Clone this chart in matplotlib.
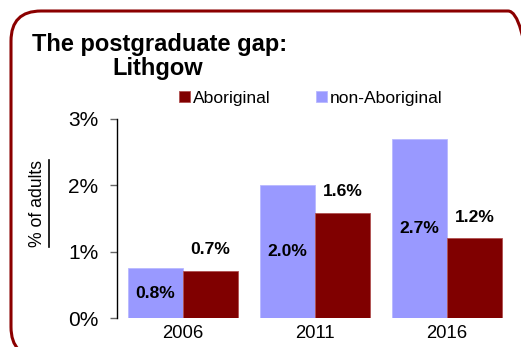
import matplotlib
matplotlib.use("Agg")
import matplotlib.pyplot as plt
import numpy as np
from matplotlib.patches import FancyBboxPatch
from matplotlib.lines import Line2D

years = ["2006", "2011", "2016"]
non_aboriginal = [0.75, 2.0, 2.7]
aboriginal = [0.71, 1.58, 1.2]
ytick_labels = ["0%", "1%", "2%", "3%"]

plt.rcParams["font.family"] = ["Liberation Sans", "DejaVu Sans"]

W, H, DPI = 521, 347, 100
fig = plt.figure(figsize=(W / DPI, H / DPI), dpi=DPI)
fig.patch.set_facecolor("white")

# rounded outer frame (pixel coordinates)
frame = FancyBboxPatch((11, -10), 527, 347 - 11 + 10,
                       boxstyle="round,pad=0,rounding_size=30",
                       transform=None, facecolor="none",
                       edgecolor="#8B0000", linewidth=2.2, zorder=0)
fig.patches.append(frame)

ax = fig.add_axes([117 / W, 1 - 318 / H, (513 - 117) / W, (318 - 119) / H])

x = np.arange(len(years))
bw = 55 / 132
c_non = "#9999FF"
c_abo = "#800000"
ax.bar(x - bw / 2, non_aboriginal, bw, color=c_non, edgecolor="#B8B8FF",
       linewidth=0.6, label="non-Aboriginal")
ax.bar(x + bw / 2, aboriginal, bw, color=c_abo, edgecolor="#B05050",
       linewidth=0.6, label="Aboriginal")

for i in range(len(years)):
    ax.text(x[i] - bw / 2, non_aboriginal[i] / 2, f"{non_aboriginal[i]:.1f}%",
            ha="center", va="center", fontsize=12.6, fontweight="bold")
    ax.text(x[i] + bw / 2, aboriginal[i] + 0.32, f"{aboriginal[i]:.1f}%",
            ha="center", va="center", fontsize=12.6, fontweight="bold")

ax.set_xlim(-0.5, len(years) - 0.5)
ax.set_ylim(0, 3)
ax.set_yticks([0, 1, 2, 3])
ax.set_yticklabels(ytick_labels, fontsize=15)
ax.set_xticks(x)
ax.set_xticklabels(years, fontsize=13.3)
ax.tick_params(axis="x", length=0, pad=5)
ax.tick_params(axis="y", length=5, width=1, color="#666666", pad=8.5)
for s in ["top", "right", "bottom"]:
    ax.spines[s].set_visible(False)
ax.spines["left"].set_linewidth(1.0)

fig.text(37 / W, 1 - 203 / H, "% of adults", rotation=90,
         ha="center", va="center", fontsize=12.7)
# underline of the rotated axis title
fig.lines.append(Line2D([49 / W, 49 / W], [1 - 247 / H, 1 - 160 / H],
                        transform=fig.transFigure, color="black",
                        linewidth=1.2))

fig.text(160 / W, 1 - 44 / H, "The postgraduate gap:", ha="center",
         va="center", fontsize=17, fontweight="bold")
fig.text(158 / W, 1 - 68 / H, "Lithgow", ha="center", va="center",
         fontsize=17, fontweight="bold")

handles, labels = ax.get_legend_handles_labels()
fig.legend([handles[1], handles[0]], [labels[1], labels[0]],
           loc="center left", bbox_to_anchor=(179 / W, 1 - 98 / H),
           ncol=2, frameon=False, fontsize=12.6, handlelength=0.6,
           handleheight=0.6, handletextpad=0.2, columnspacing=2.6,
           borderaxespad=0, borderpad=0)

fig.savefig("out.png", dpi=DPI)
